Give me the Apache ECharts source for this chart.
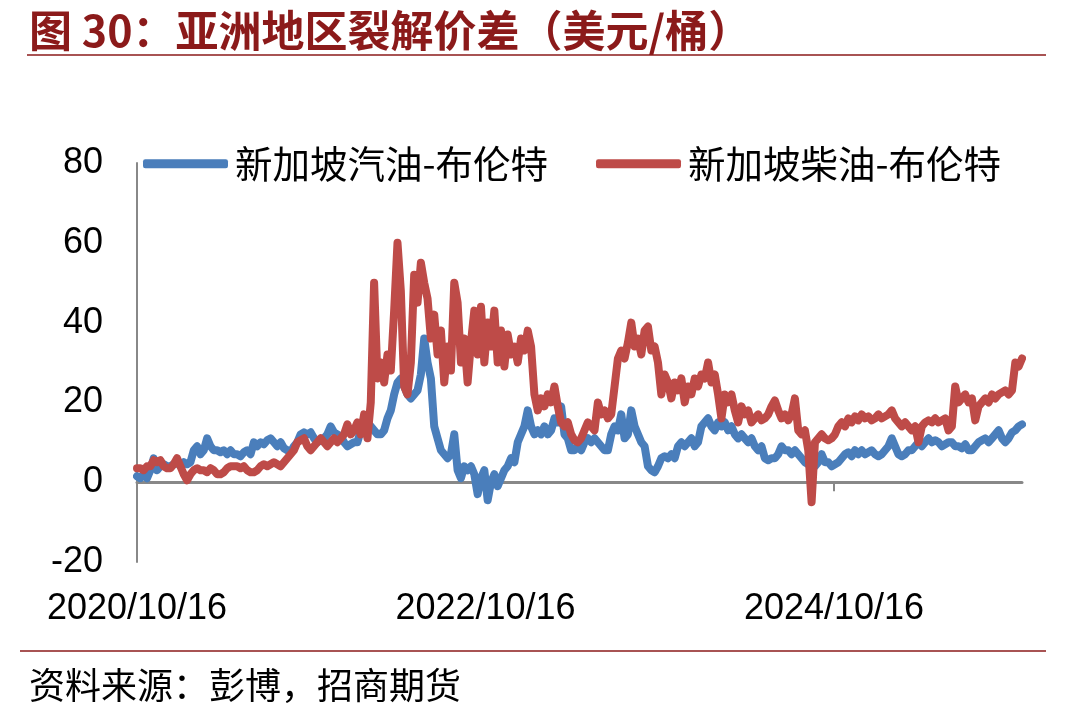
<!DOCTYPE html>
<html lang="zh">
<head>
<meta charset="UTF-8">
<title>亚洲地区裂解价差</title>
<script src="https://cdn.jsdelivr.net/npm/echarts@6/dist/echarts.min.js"></script>
<style>
  *{margin:0;padding:0}
  html,body{width:100%;height:100%;background:#fff}
  #main{width:1092px;height:709px}
</style>
</head>
<body>
<div id="main"></div>
<script type="text/javascript">
// 周度数据，起点 2020/10/16
var startDate = '2020/10/16';
var tickLabels = ['2020/10/16', '2022/10/16', '2024/10/16'];
var tickDays = [0, 730.5, 1461];
var seriesNames = ['新加坡汽油-布伦特', '新加坡柴油-布伦特'];

// 新加坡汽油-布伦特
var gasoline = [
  1.5, 1, 2, 1, 3, 6, 3, 4, 4.5, 4,
  4, 4.5, 5, 4, 5, 4.5, 5, 8, 9, 7,
  8, 11, 9, 8, 8, 7.5, 8, 7, 8, 7,
  7, 6.5, 7.5, 8, 7, 10, 9, 10, 9.5, 10.5,
  11, 10, 9, 10, 8.5, 8, 7.5, 9, 10, 12,
  12.5, 12, 12.5, 11, 10, 10.5, 11, 12, 14, 12.5,
  12, 11.5, 10, 9, 9.5, 10, 10, 13, 16, 15,
  14, 13, 12, 12, 13, 16, 18, 22, 25, 26,
  24, 22, 21, 22, 23, 27, 36, 30, 26, 14,
  11, 8, 7, 6, 7, 12, 3, 1, 4, 3,
  4, 2, -3, 1, 3, -4.5, 0, 2, -1, 1,
  3, 4, 6, 5, 10, 12, 14, 18, 14, 12,
  13, 12, 14, 12, 13, 16, 15, 19, 12, 11,
  8, 8, 9, 8, 10, 11, 10, 11, 10, 9,
  8, 8, 12, 14, 13, 17, 11, 12, 18, 14,
  12, 10, 9, 4, 3, 2.5, 4, 6, 6.5, 6,
  7, 6, 9, 10, 9, 10, 11, 9, 10, 14,
  15, 16, 14, 13, 15, 14, 15, 13, 14, 12,
  11, 12, 11, 10, 11, 9, 8, 9, 6, 5.5,
  6, 6, 7, 9, 8, 8, 7, 8, 7, 6,
  5, 4.5, 5, 4, 5, 7, 5, 5, 4, 4.5,
  5, 6, 7, 7.5, 6.5, 8, 7, 8, 7, 7.5,
  8, 7, 6.5, 7, 8, 9, 11, 9, 7, 6.5,
  7, 8, 8, 9, 10, 9, 10, 11, 10, 10.5,
  10, 9, 9.5, 10, 10, 9, 9, 8.5, 9.5, 8,
  8, 9, 10, 10.5, 11, 10, 11, 12, 13, 11,
  10, 11, 12.5, 13, 14, 14.5
];

// 新加坡柴油-布伦特
var diesel = [
  3.5, 3.5, 3, 4, 4, 5.5, 5, 5.5, 4, 3.5,
  3.5, 4.5, 6, 4, 2, 0.5, 2, 3, 3.5, 3,
  3, 2.5, 3.5, 3, 2, 2, 2.5, 3.5, 4, 4,
  4, 3.5, 4, 3, 2.5, 2.5, 3, 4, 4.5, 4,
  4.5, 5, 4.5, 4, 5, 6, 7, 8, 10, 10.5,
  11, 9, 8, 9, 10, 11, 10, 9, 10, 11,
  10, 11, 12, 14.5, 12, 13, 15, 12, 17, 11,
  20, 50, 26, 30, 25, 32, 28, 43, 60, 48,
  24, 22, 30, 52, 45, 55, 50, 46, 36, 42,
  32, 38, 25, 34, 28, 50, 45, 30, 36, 25,
  35, 43, 32, 44, 30, 40, 34, 43, 30, 38,
  29, 37, 32, 34, 30, 36, 33, 38, 34, 22,
  18, 21, 19, 22, 20, 24, 19, 15, 14, 15,
  12, 10.5, 10, 11, 13, 15, 14, 13, 20, 17,
  18, 16, 17, 24, 31, 33, 31, 35, 40, 34,
  36, 32, 38, 39, 33, 34, 30, 22, 27, 25,
  21, 25, 23, 26, 20, 24, 22, 26, 24, 27,
  26, 30, 25, 27, 22, 16, 22, 20, 22, 18,
  15, 19, 17, 18, 15, 16, 17, 15.5, 16, 17,
  19, 20.5, 18, 16, 17, 15.5, 17, 21, 13, 12,
  13, 8, -5, 10, 11, 12, 11, 10.5, 11, 12,
  14, 15, 14, 16, 15, 16.5, 15.5, 17, 16, 16.5,
  15.5, 16, 17, 16, 16.5, 17, 18, 16, 15, 14,
  15, 14, 13, 14, 10, 14, 15, 15.5, 15, 16,
  15, 15.5, 16, 13, 14, 24, 20, 21, 22, 20,
  21, 15.5, 19, 20, 21, 20, 22, 21, 22, 22.5,
  23, 22, 23, 30, 29, 31
];

function toPairs(arr) {
  var out = [];
  for (var i = 0; i < arr.length; i++) {
    out.push([i * 7, arr[i]]);
  }
  return out;
}

var lastDay = (gasoline.length - 1) * 7;

function dayLabel(v) {
  for (var i = 0; i < tickDays.length; i++) {
    if (Math.abs(tickDays[i] - v) < 1) return tickLabels[i];
  }
  return '';
}

var myChart = echarts.init(document.getElementById('main'));

var option = {
  animation: false,
  backgroundColor: '#fff',
  title: [{
    text: '图 30：亚洲地区裂解价差（美元/桶）',
    left: 24,
    top: 4,
    textStyle: {
      fontFamily: 'Noto Sans CJK SC',
      fontSize: 43,
      fontWeight: 'bold',
      color: '#8b1a1a'
    }
  }, {
    text: '资料来源：彭博，招商期货',
    left: 24,
    top: 662,
    textStyle: {
      fontFamily: 'Noto Sans CJK SC',
      fontSize: 36,
      fontWeight: 'normal',
      color: '#000'
    }
  }],
  graphic: [{
    type: 'line',
    shape: {x1: 27, y1: 55, x2: 1046, y2: 55},
    style: {stroke: '#8b1a1a', lineWidth: 1.5}
  }, {
    type: 'line',
    shape: {x1: 20, y1: 651, x2: 1046, y2: 651},
    style: {stroke: '#8b1a1a', lineWidth: 1.5}
  }],
  legend: {
    data: seriesNames,
    left: 138,
    top: 140,
    icon: 'roundRect',
    itemWidth: 85,
    itemHeight: 9,
    itemGap: 48,
    textStyle: {
      fontFamily: 'Noto Sans CJK SC',
      fontSize: 37.5,
      color: '#000',
      padding: [0, 0, 0, 2]
    }
  },
  grid: {
    left: 137,
    right: 70,
    top: 163,
    bottom: 147,
    containLabel: false
  },
  xAxis: [{
    type: 'value',
    min: 0,
    max: lastDay,
    axisLine: {onZero: true, lineStyle: {color: '#888', width: 3}},
    axisTick: {
      show: true,
      customValues: tickDays,
      length: 9,
      lineStyle: {color: '#888', width: 2}
    },
    axisLabel: {show: false},
    splitLine: {show: false}
  }, {
    type: 'value',
    position: 'bottom',
    min: 0,
    max: lastDay,
    axisLine: {show: false, onZero: false},
    axisTick: {show: false},
    splitLine: {show: false},
    axisLabel: {
      customValues: tickDays,
      margin: 29,
      fontFamily: 'Liberation Sans',
      fontSize: 36,
      color: '#000',
      formatter: dayLabel
    }
  }],
  yAxis: {
    type: 'value',
    min: -20,
    max: 80,
    interval: 20,
    axisLine: {show: true, lineStyle: {color: '#888', width: 2}},
    axisTick: {show: false},
    splitLine: {show: false},
    axisLabel: {
      margin: 34,
      fontFamily: 'Liberation Sans',
      fontSize: 36,
      color: '#000'
    }
  },
  series: [{
    name: seriesNames[0],
    type: 'line',
    xAxisIndex: 0,
    data: toPairs(gasoline),
    showSymbol: false,
    color: '#4a7ebb',
    lineStyle: {width: 8, cap: 'round', join: 'round'}
  }, {
    name: seriesNames[1],
    type: 'line',
    xAxisIndex: 0,
    data: toPairs(diesel),
    showSymbol: false,
    color: '#be4b48',
    lineStyle: {width: 8, cap: 'round', join: 'round'}
  }]
};

myChart.setOption(option);
</script>
</body>
</html>
